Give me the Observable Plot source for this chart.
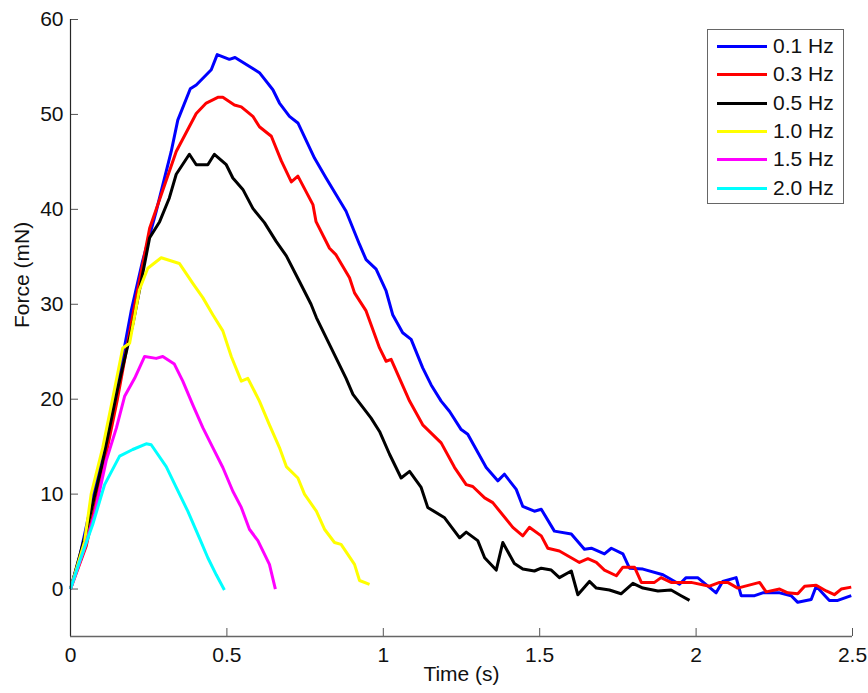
<!DOCTYPE html>
<html>
<head>
<meta charset="utf-8">
<script src="https://cdn.jsdelivr.net/npm/d3@7"></script>
<script src="https://cdn.jsdelivr.net/npm/@observablehq/plot@0.6"></script>
<style>
  html, body { margin: 0; padding: 0; background: #fff; }
  #wrap { position: relative; width: 868px; height: 693px; font-family: "Liberation Sans", Arial, sans-serif; }
  #legend { position: absolute; left: 707px; top: 29px; width: 137px; height: 175px; border: 1px solid #666; background: #fff; box-sizing: border-box; }
  .row { position: absolute; left: 0; height: 28px; width: 100%; }
  .row .sw { position: absolute; left: 9px; top: 13px; width: 50px; height: 3px; }
  .row .lb { position: absolute; left: 65px; top: 0; font-size: 21px; line-height: 28px; color: #111; white-space: nowrap; }
</style>
</head>
<body>
<div id="wrap"></div>
<script>
// ---- Data (time in s, force in mN) ----
const seriesNames = ["0.1 Hz", "0.3 Hz", "0.5 Hz", "1.0 Hz", "1.5 Hz", "2.0 Hz"];
const seriesColors = ["#0000ff", "#ff0000", "#000000", "#ffff00", "#ff00ff", "#00ffff"];

const hz01 = [[0,0],[0.03,3.5],[0.06,8],[0.1,14],[0.15,21.5],[0.194,29.3],[0.23,34.5],[0.274,39.8],[0.322,46.1],[0.343,49.4],[0.383,52.7],[0.402,53.1],[0.45,54.7],[0.469,56.3],[0.508,55.8],[0.526,56.0],[0.604,54.4],[0.647,52.6],[0.668,51.2],[0.70,49.8],[0.727,49.1],[0.78,45.4],[0.817,43.3],[0.881,39.8],[0.924,36.3],[0.945,34.7],[0.977,33.7],[1.009,31.4],[1.03,28.9],[1.062,27.0],[1.089,26.3],[1.126,23.3],[1.153,21.5],[1.185,19.8],[1.212,18.7],[1.249,16.8],[1.27,16.3],[1.329,12.8],[1.366,11.4],[1.387,12.1],[1.425,10.5],[1.446,8.7],[1.483,8.2],[1.505,8.4],[1.547,6.1],[1.601,5.8],[1.643,4.2],[1.665,4.3],[1.707,3.7],[1.729,4.3],[1.766,3.7],[1.787,2.2],[1.83,2.1],[1.894,1.5],[1.947,0.5],[1.968,1.2],[2.005,1.2],[2.064,-0.4],[2.085,0.8],[2.128,1.2],[2.144,-0.7],[2.187,-0.7],[2.213,-0.4],[2.267,-0.4],[2.304,-0.7],[2.325,-1.4],[2.368,-1.1],[2.384,0.3],[2.426,-1.2],[2.453,-1.2],[2.496,-0.7]];

const hz03 = [[0,0],[0.05,4.5],[0.1,12],[0.15,20],[0.2,29],[0.253,38],[0.338,46.1],[0.402,50.1],[0.434,51.2],[0.471,51.8],[0.487,51.8],[0.524,51.0],[0.546,50.8],[0.583,49.8],[0.604,48.7],[0.642,47.7],[0.674,45.1],[0.706,42.9],[0.727,43.5],[0.775,40.5],[0.785,38.7],[0.828,35.9],[0.849,35.2],[0.892,32.8],[0.908,31.2],[0.945,29.3],[0.988,25.4],[1.009,24.0],[1.025,24.2],[1.084,19.8],[1.126,17.3],[1.185,15.4],[1.228,12.8],[1.265,11.0],[1.286,10.8],[1.324,9.6],[1.35,9.1],[1.414,6.5],[1.446,5.6],[1.467,6.5],[1.505,5.6],[1.526,4.3],[1.563,4.0],[1.627,2.8],[1.654,3.2],[1.681,2.8],[1.707,2.0],[1.745,1.4],[1.766,2.3],[1.803,2.3],[1.825,0.7],[1.867,0.7],[1.888,1.2],[1.92,0.7],[1.984,0.7],[2.043,0.3],[2.075,0.7],[2.101,0.7],[2.133,0.1],[2.203,0.7],[2.224,-0.3],[2.267,0],[2.293,-0.4],[2.325,-0.5],[2.347,0.3],[2.384,0.4],[2.416,-0.2],[2.442,-0.6],[2.464,0],[2.496,0.2]];

const hz05 = [[0,0],[0.05,6],[0.1,13],[0.15,21],[0.2,28],[0.253,37],[0.285,38.7],[0.316,41.2],[0.338,43.7],[0.38,45.8],[0.402,44.7],[0.439,44.7],[0.46,45.8],[0.498,44.7],[0.519,43.3],[0.551,42.1],[0.583,40.1],[0.62,38.6],[0.658,36.6],[0.69,35.1],[0.732,32.4],[0.769,30.0],[0.786,28.6],[0.881,22.2],[0.903,20.5],[0.961,18.0],[0.988,16.6],[1.02,14.2],[1.057,11.7],[1.084,12.4],[1.121,10.7],[1.142,8.6],[1.196,7.5],[1.244,5.4],[1.265,6.0],[1.302,5.1],[1.324,3.3],[1.361,2.0],[1.382,4.9],[1.419,2.7],[1.446,2.1],[1.483,1.9],[1.505,2.2],[1.537,2.0],[1.563,1.2],[1.601,1.9],[1.622,-0.6],[1.659,0.8],[1.681,0.1],[1.723,-0.1],[1.76,-0.5],[1.798,0.6],[1.83,0.1],[1.878,-0.2],[1.92,-0.1],[1.952,-0.7],[1.979,-1.2]];

const hz10 = [[0,0],[0.045,5],[0.066,10],[0.103,14.9],[0.135,20.1],[0.167,25.4],[0.189,25.9],[0.22,31.5],[0.247,33.8],[0.29,34.9],[0.348,34.3],[0.391,32.2],[0.423,30.7],[0.455,28.9],[0.487,27.2],[0.514,24.5],[0.546,21.9],[0.567,22.2],[0.604,19.8],[0.636,17.3],[0.668,14.9],[0.69,12.9],[0.727,11.7],[0.748,10.0],[0.786,8.2],[0.812,6.3],[0.844,4.9],[0.865,4.7],[0.908,2.6],[0.924,0.9],[0.956,0.5]];

const hz15 = [[0,0],[0.045,4.3],[0.077,7.9],[0.114,13.5],[0.147,17.0],[0.173,20.3],[0.205,22.2],[0.237,24.5],[0.274,24.3],[0.295,24.5],[0.332,23.7],[0.359,21.9],[0.391,19.4],[0.423,17.0],[0.455,14.9],[0.487,12.8],[0.519,10.3],[0.546,8.6],[0.572,6.3],[0.599,5.1],[0.636,2.6],[0.655,0]];

const hz20 = [[0,0],[0.029,2.9],[0.071,6.8],[0.109,11.0],[0.157,14.0],[0.199,14.7],[0.242,15.3],[0.258,15.2],[0.306,12.9],[0.338,10.7],[0.375,8.2],[0.412,5.4],[0.439,3.3],[0.466,1.5],[0.492,-0.1]];

const xTicks = [0, 0.5, 1, 1.5, 2, 2.5];
const xTickLabels = ["0", "0.5", "1", "1.5", "2", "2.5"];
const yTicks = [0, 10, 20, 30, 40, 50, 60];
const xDomain = [0, 2.5];
const yDomain = [-5, 60];

// ---- Build table ----
const allSeries = [hz01, hz03, hz05, hz10, hz15, hz20];
const rows = [];
allSeries.forEach((s, i) => s.forEach(([t, f]) => rows.push({series: seriesNames[i], t, f})));

const W = 868, H = 693, mL = 70, mR = 16, mT = 19, mB = 57;
const pxPerX = (W - mL - mR) / (xDomain[1] - xDomain[0]);
const pxPerY = (H - mT - mB) / (yDomain[1] - yDomain[0]);
const tickLen = 8;
const font = "Liberation Sans, Arial, sans-serif";

const chart = Plot.plot({
  width: W, height: H,
  marginLeft: mL, marginRight: mR, marginTop: mT, marginBottom: mB,
  style: {fontFamily: font, fontSize: "21px", color: "#111", background: "#fff"},
  x: {domain: xDomain},
  y: {domain: yDomain},
  color: {domain: seriesNames, range: seriesColors},
  marks: [
    Plot.axisX({ticks: xTicks, tickFormat: (d) => xTickLabels[xTicks.indexOf(d)], tickSize: 0, tickPadding: 11, label: null, fontSize: 21}),
    Plot.axisY({ticks: yTicks, tickSize: 0, tickPadding: 7, label: null, fontSize: 21}),
    // inward ticks
    Plot.ruleX(xTicks, {x: (d) => d, y1: yDomain[0], y2: yDomain[0] + tickLen / pxPerY, stroke: "#555", strokeWidth: 1}),
    Plot.ruleY(yTicks, {y: (d) => d, x1: xDomain[0], x2: xDomain[0] + tickLen / pxPerX, stroke: "#555", strokeWidth: 1}),
    Plot.line(rows, {x: "t", y: "f", z: "series", stroke: "series", strokeWidth: 3, strokeLinejoin: "round", strokeLinecap: "butt"}),
    Plot.ruleX([xDomain[0]], {stroke: "#262626", strokeWidth: 1.2}),
    Plot.ruleY([yDomain[0]], {stroke: "#666", strokeWidth: 1.5}),
    Plot.text(["Time (s)"], {frameAnchor: "bottom", dy: 44, fontSize: 21, fill: "#111"}),
    Plot.text(["Force (mN)"], {frameAnchor: "left", dx: -48, rotate: -90, fontSize: 21, fill: "#111"})
  ]
});

const wrap = document.getElementById("wrap");
wrap.appendChild(chart);

// legend overlay
const legend = document.createElement("div");
legend.id = "legend";
seriesNames.forEach((name, i) => {
  const r = document.createElement("div");
  r.className = "row";
  r.style.top = (2 + i * 28.3) + "px";
  const sw = document.createElement("div");
  sw.className = "sw";
  sw.style.background = seriesColors[i];
  const lb = document.createElement("div");
  lb.className = "lb";
  lb.textContent = name;
  r.appendChild(sw); r.appendChild(lb);
  legend.appendChild(r);
});
wrap.appendChild(legend);
</script>
</body>
</html>
